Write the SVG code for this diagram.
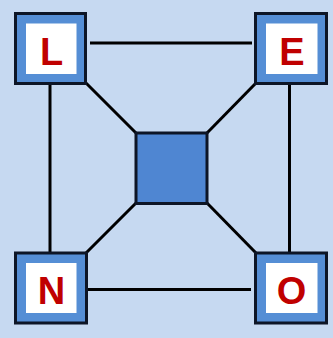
<svg xmlns="http://www.w3.org/2000/svg" width="333" height="338" viewBox="0 0 333 338">
<style>
.outer{fill:#558ed5;stroke:#0d1526;stroke-width:3}
.inner{fill:#ffffff}
.lbl{font-family:"Liberation Sans",Arial,sans-serif;font-weight:bold;font-size:38px;fill:#c00000;text-anchor:middle}
.ln{stroke:#000000;stroke-width:3;fill:none}
.hub{fill:#4f86d2;stroke:#0d1526;stroke-width:3}
</style>
<rect x="0" y="0" width="333" height="338" fill="#c6d9f1"/>
<g id="connectors">
<line class="ln" x1="90" y1="43" x2="252" y2="43"/>
<line class="ln" x1="88" y1="289.5" x2="251" y2="289.5"/>
<line class="ln" x1="50" y1="84" x2="50" y2="252"/>
<line class="ln" x1="289.5" y1="84" x2="289.5" y2="252"/>
<line class="ln" x1="86" y1="83" x2="136" y2="133"/>
<line class="ln" x1="256" y1="83" x2="207" y2="133"/>
<line class="ln" x1="86" y1="253" x2="136" y2="203"/>
<line class="ln" x1="256" y1="253" x2="207" y2="203"/>
</g>
<g id="L">
<rect class="outer" x="15.5" y="13.5" width="70" height="70"/>
<rect class="inner" x="26" y="23.5" width="50.5" height="50.5"/>
<text class="lbl" x="51.5" y="65">L</text>
</g>
<g id="E">
<rect class="outer" x="255.5" y="13.5" width="71" height="70"/>
<rect class="inner" x="266" y="23.5" width="51.5" height="50.5"/>
<text class="lbl" x="292" y="65">E</text>
</g>
<g id="N">
<rect class="outer" x="15.5" y="253" width="71" height="70"/>
<rect class="inner" x="26" y="263" width="50.5" height="50"/>
<text class="lbl" x="51.5" y="303.5">N</text>
</g>
<g id="O">
<rect class="outer" x="255.5" y="253" width="71" height="70"/>
<rect class="inner" x="266" y="263" width="51.5" height="50"/>
<text class="lbl" x="291.5" y="304">O</text>
</g>
<g id="hub">
<rect class="hub" x="136" y="133" width="71" height="70.5"/>
</g>
</svg>
